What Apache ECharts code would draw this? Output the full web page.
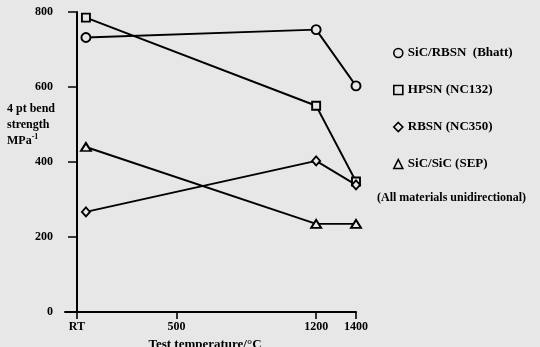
<!DOCTYPE html>
<html>
<head>
<meta charset="utf-8">
<script src="https://cdn.jsdelivr.net/npm/echarts@6/dist/echarts.min.js"></script>
<style>
  html, body { margin: 0; padding: 0; background: #e7e7e7; }
  #chart { width: 540px; height: 347px; }
</style>
</head>
<body>
<div id="chart"></div>
<script>
// Test temperatures (°C); the room-temperature points sit just right of the RT tick
const temperatures = [45, 1200, 1400];
const tickValues = [0, 500, 1200, 1400];
const tickLabels = ['RT', '500', '1200', '1400'];

// 4 pt bend strength (MPa) for each material
const sicRbsn = [732, 753, 603];
const hpsn = [785, 550, 348];
const rbsn = [267, 403, 339];
const sicSic = [440, 235, 235];

const seriesNames = ['SiC/RBSN  (Bhatt)', 'HPSN (NC132)', 'RBSN (NC350)', 'SiC/SiC (SEP)'];
const seriesSymbols = ['circle', 'rect', 'diamond', 'triangle'];
const seriesSizes = [[9, 9], [8, 8], [8, 9], [10, 8]];
const seriesValues = [sicRbsn, hpsn, rbsn, sicSic];

const BG = '#e7e7e7';
const FONT = '"Liberation Serif", "DejaVu Serif", serif';

const chart = echarts.init(document.getElementById('chart'), null, { renderer: 'canvas' });

const series = seriesNames.map((name, i) => ({
  name,
  type: 'line',
  data: temperatures.map((t, j) => [t, seriesValues[i][j]]),
  symbol: seriesSymbols[i],
  symbolSize: seriesSizes[i],
  showAllSymbol: true,
  lineStyle: { color: '#000', width: 1.9 },
  itemStyle: { color: BG, borderColor: '#000', borderWidth: 1.9 },
  emphasis: { disabled: true },
  z: 3
}));

chart.setOption({
  backgroundColor: BG,
  animation: false,
  textStyle: { fontFamily: FONT },
  grid: { left: 65, right: 184, top: 12, bottom: 35, containLabel: false, outerBoundsMode: 'none' },
  xAxis: {
    type: 'value',
    min: -60,
    max: 1400,
    name: 'Test temperature/°C',
    nameLocation: 'middle',
    nameGap: 21,
    nameTextStyle: { color: '#000', fontFamily: FONT, fontWeight: 'bold', fontSize: 13, padding: [0, 11, 0, 0] },
    axisLine: { show: true, onZero: false, lineStyle: { color: '#000', width: 2 } },
    axisTick: { show: true, customValues: tickValues, length: 7, lineStyle: { color: '#000', width: 1.6 } },
    axisLabel: {
      customValues: tickValues,
      margin: 9,
      color: '#000',
      fontFamily: FONT,
      fontWeight: 'bold',
      fontSize: 12,
      formatter: v => tickLabels[tickValues.indexOf(v)] ?? ''
    },
    splitLine: { show: false }
  },
  yAxis: {
    type: 'value',
    min: 0,
    max: 800,
    interval: 200,
    axisLine: { show: true, lineStyle: { color: '#000', width: 2 } },
    axisTick: { show: true, length: 9, lineStyle: { color: '#000', width: 1.5 } },
    axisLabel: { margin: 12, color: '#000', fontFamily: FONT, fontWeight: 'bold', fontSize: 12 },
    splitLine: { show: false }
  },
  legend: {
    orient: 'vertical',
    left: 388,
    top: 40,
    itemWidth: 9,
    itemHeight: 9,
    itemGap: 21,
    selectedMode: false,
    textStyle: { color: '#000', fontFamily: FONT, fontWeight: 'bold', fontSize: 13, lineHeight: 16 },
    data: seriesNames.map((name, i) => ({
      name,
      icon: seriesSymbols[i],
      itemStyle: { color: BG, borderColor: '#000', borderWidth: 1.6 }
    }))
  },
  graphic: [
    {
      type: 'text',
      left: 7,
      top: 101,
      style: {
        text: '4 pt bend\nstrength\nMPa{sup|-1}',
        fill: '#000',
        font: 'bold 12px ' + FONT,
        lineHeight: 16,
        rich: {
          sup: { fontSize: 8, fontWeight: 'bold', fontFamily: FONT, verticalAlign: 'top', lineHeight: 16, padding: [0, 0, 6, 0] }
        }
      }
    },
    {
      type: 'text',
      left: 377,
      top: 192,
      style: {
        text: '(All materials unidirectional)',
        fill: '#000',
        font: 'bold 12px ' + FONT
      }
    }
  ],
  series
});
</script>
</body>
</html>
